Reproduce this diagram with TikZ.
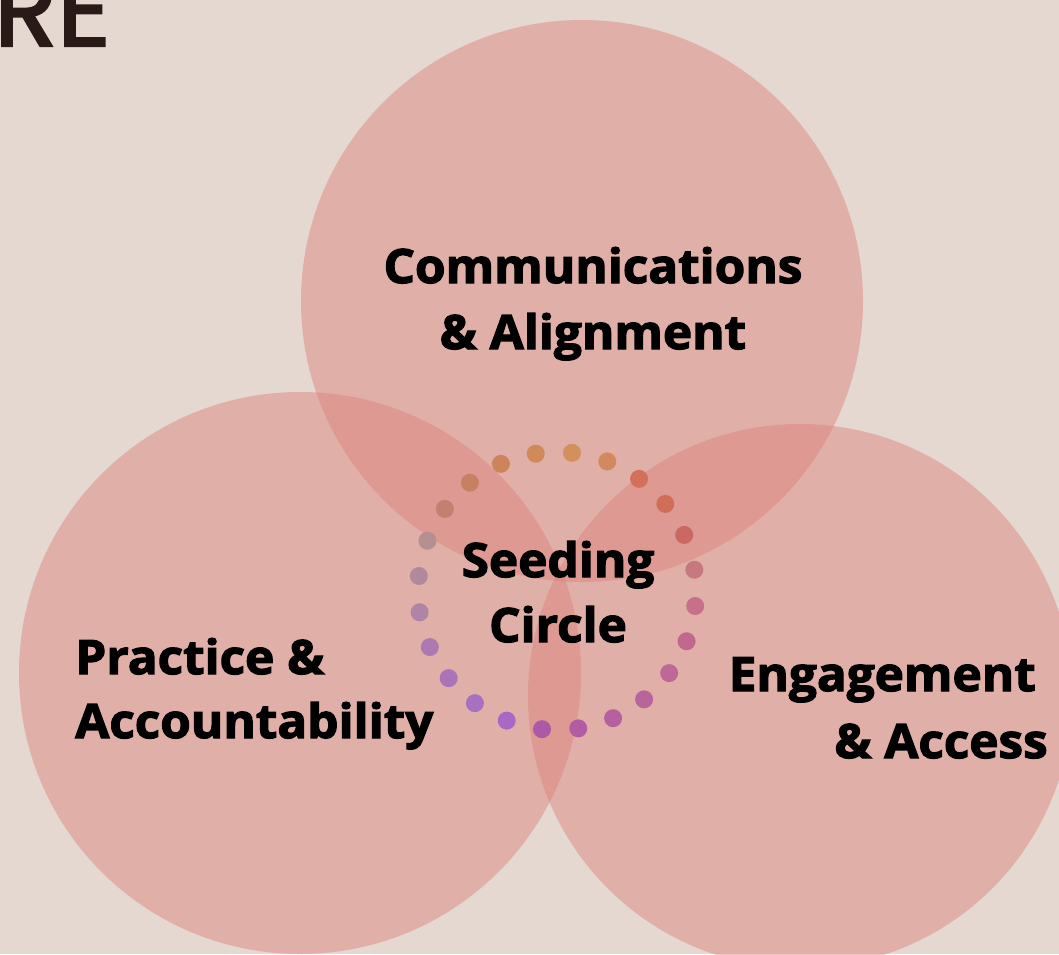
\documentclass[tikz,border=0pt]{standalone}
\usepackage{fontspec}
\usetikzlibrary{calc}
\setmainfont{Open Sans}[BoldFeatures={FakeBold=2.6,FakeStretch=1.045}]
\newfontfamily\refont{Poppins}[FakeBold=2.2]
\definecolor{bgc}{HTML}{E5D8D1}
\definecolor{petalc}{HTML}{DA7F78}
\definecolor{titlec}{HTML}{2A1A17}
\begin{document}
\begin{tikzpicture}[x=0.75pt,y=-0.75pt,
  petal/.style={fill=petalc,fill opacity=0.45,draw=none},
  lbl/.style={font=\bfseries\fontsize{35.5}{42}\selectfont,inner sep=0pt,text=black}]
\useasboundingbox (0,0) rectangle (1059,954);
\clip (0,0) rectangle (1059,954);
\fill[bgc] (0,0) rectangle (1059,954);
% three circles
\fill[petal] (582,301) circle [radius=210.75pt];
\fill[petal] (300,673) circle [radius=210.75pt];
\fill[petal] (800,696) circle [radius=204pt];
% ring of dots
\foreach \k/\c in {0/D4905C,1/D28A5C,2/D2705A,3/D06E58,4/CC6862,5/C87880,6/C8708A,7/C26890,8/BE6898,9/BA649C,10/B660A0,11/B25CA4,12/AE58A8,13/A868C4,14/A870C0,15/AC74B8,16/AE78B0,17/B084A8,18/B08A9C,19/B49090,20/C28070,21/C88062,22/CC845A,23/D08A58}{
  \definecolor{dotc}{HTML}{\c}
  \fill[dotc] ($(557,591)+({139*cos(83.8-15*\k)},{-139*sin(83.8-15*\k)})$) circle [radius=6.75pt];
}
% title fragment
\node[font=\refont\fontsize{78}{84}\selectfont,text=titlec,inner sep=0pt,anchor=base east] (title) at (111,46) {RE};
% labels
\node[lbl,anchor=base] (comm1) at (593,283) {Communications};
\node[lbl,anchor=base] (comm2) at (593,349) {\& Alignment};
\node[lbl,anchor=base] (seed1) at (558,577) {Seeding};
\node[lbl,anchor=base] (seed2) at (558,642) {Circle};
\node[lbl,anchor=base west] (prac1) at (75,674) {Practice \&};
\node[lbl,anchor=base west] (prac2) at (75,738) {Accountability};
\node[lbl,anchor=base east] (eng1) at (1036,691) {Engagement};
\node[lbl,anchor=base east] (eng2) at (1048,758) {\& Access};
\end{tikzpicture}
\end{document}
